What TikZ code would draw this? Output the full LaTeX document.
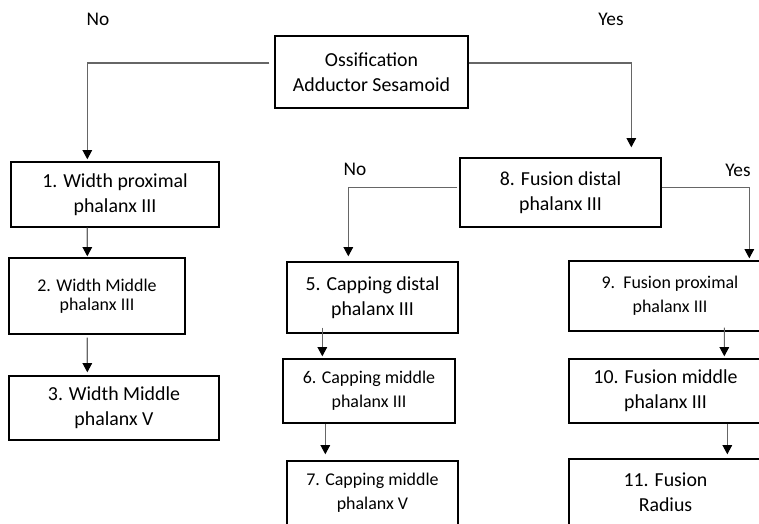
\documentclass[tikz,border=0pt]{standalone}
\usepackage{fontspec}
\setmainfont{Carlito}
\usetikzlibrary{arrows.meta,calc}

\begin{document}
\begin{tikzpicture}[x=0.02cm,y=-0.02cm]
	\tikzstyle{box}=[draw=black,line width=0.8pt,align=center,inner sep=0pt,font=\fontsize{11.3}{14}\selectfont]
	\tikzstyle{sbox}=[box,font=\fontsize{10.2}{13.5}\selectfont]
	\tikzstyle{arr}=[draw=black!60,line width=0.65pt,-{Triangle[width=5.4pt,length=5.2pt,black]}]
	\tikzstyle{lbl}=[font=\fontsize{11}{13}\selectfont]
	\useasboundingbox (0,0) rectangle (759,523);
	\clip (0,0) rectangle (759,523);
	\node [box,minimum width=3.86cm,minimum height=1.44cm] (top) at (371.5,72) {Ossification\\Adductor Sesamoid};
	\node [box,minimum width=4.16cm,minimum height=1.30cm] (b1) at (115,194.5) {1. Width proximal\\phalanx III};
	\node [sbox,minimum width=3.52cm,minimum height=1.52cm,font=\fontsize{10.2}{11}\selectfont] (b2) at (97,296) {2. Width Middle\\phalanx III};
	\node [box,minimum width=4.20cm,minimum height=1.28cm] (b3) at (114,408) {3. Width Middle\\phalanx V};
	\node [box,minimum width=4.02cm,minimum height=1.38cm] (b8) at (560.5,192.5) {8. Fusion distal\\phalanx III};
	\node [box,minimum width=3.42cm,minimum height=1.42cm] (b5) at (372.5,297.5) {5. Capping distal\\phalanx III};
	\node [sbox,minimum width=3.44cm,minimum height=1.28cm] (b6) at (369,391) {6. Capping middle\\phalanx III};
	\node [sbox,minimum width=3.42cm,minimum height=1.28cm] (b7) at (372.5,493) {7. Capping middle\\phalanx V};
	\node [sbox,minimum width=4.04cm,minimum height=1.40cm] (b9) at (670,296) {9.\ \ Fusion proximal\\phalanx III};
	\node [box,minimum width=3.86cm,minimum height=1.28cm] (b10) at (665.5,391) {10. Fusion middle\\phalanx III};
	\node [box,minimum width=3.86cm,minimum height=1.32cm] (b11) at (665.5,492) {11. Fusion\\Radius};
	\node [lbl] (no1) at (98,19) {No};
	\node [lbl] (yes1) at (611,19) {Yes};
	\node [lbl] (no2) at (355,169) {No};
	\node [lbl] (yes2) at (738,170) {Yes};
	\draw [arr] ($(top.west)+(-5,-9)$) -| ($(b1.north west)+(77,-2)$);
	\draw [arr] ($(top.east)+(0,-9)$) -| ($(b8.north west)+(172,-10)$);
	\draw [arr] ($(b1.south west)+(77,0)$) -- ($(b2.north west)+(79,-1)$);
	\draw [arr] ($(b2.south west)+(79,3)$) -- ($(b3.north west)+(79,-3)$);
	\draw [arr] ($(b8.west)+(-2,-5)$) -| ($(b5.north west)+(62,-5)$);
	\draw [arr] ($(b8.east)+(0,-5)$) -| ($(b9.north west)+(181,-2)$);
	\draw [arr] ($(b5.south west)+(36,-6)$) -- ($(b6.north west)+(40,-2)$);
	\draw [arr] ($(b6.south west)+(43,0)$) -- ($(b7.north west)+(39,-6)$);
	\draw [arr] ($(b9.south west)+(156,-4)$) -- ($(b10.north west)+(156,-2)$);
	\draw [arr] ($(b10.south west)+(159,0)$) -- ($(b11.north west)+(159,-4)$);
\end{tikzpicture}
\end{document}
